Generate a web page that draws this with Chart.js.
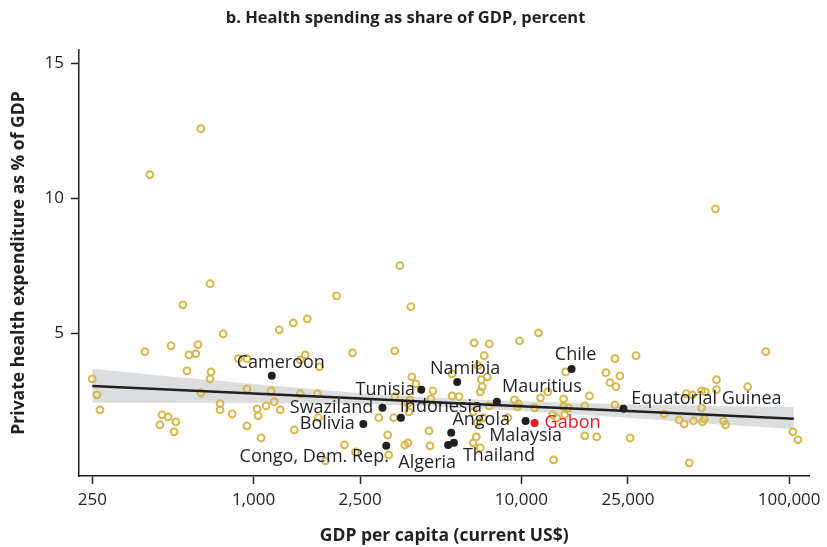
<!DOCTYPE html>
<html>
<head>
<meta charset="utf-8">
<script src="https://cdn.jsdelivr.net/npm/chart.js@4.4.1/dist/chart.umd.min.js"></script>
<style>
html, body { margin: 0; padding: 0; background: #fff; }
</style>
</head>
<body>
<canvas id="chartHolder" width="827" height="547"></canvas>
<script>
// GDP per capita (US$) and private health spending (% of GDP), other countries
const gdpPerCapita = [
  636, 410, 53050, 3517, 688, 545, 2040, 3867, 770, 393, 492, 620, 574, 609, 1247, 1407, 1588, 877, 945, 1560, 1494, 1762, 564, 694, 688, 250,
  260, 267, 455, 480, 513, 447, 505, 636, 750, 750, 832, 945, 1031, 1114, 1040, 945, 1067, 1163, 1194, 1258, 1419, 1494, 1731, 1746, 1855, 2186, 2404,
  2342, 3367, 6664, 7590, 7266, 9837, 11586, 3900, 14635, 4037, 4675, 4597, 5511, 6898, 7082, 7459, 7143, 5511, 5857, 3367, 3834, 7022,
  2933, 3338, 3770, 3802, 4519, 4558, 3169, 3196, 3671, 3770, 6782, 6608, 7022, 13190, 9416, 9678, 11790, 14380, 14380, 11190, 13540, 8910, 7590, 7205, 6608, 12540, 9750, 17245, 17960, 15000, 14500, 17245, 19130, 6840, 13080,
  20680, 22350, 23340, 26800, 21410, 22540, 22350, 25450, 34130, 38860, 40570, 43870, 41260, 43494, 47060, 48640, 53510, 53510, 69960, 47060, 47421, 48230, 56860, 57840, 103235, 107800, 42370, 81730
];
const privateShare = [
  12.58, 10.88, 9.61, 7.50, 6.83, 6.05, 6.38, 5.98, 4.97, 4.31, 4.53, 4.57, 4.19, 4.23, 5.12, 5.38, 5.53, 4.05, 4.05, 4.19, 4.01, 3.75, 3.60, 3.56, 3.30, 3.30,
  2.71, 2.15, 1.97, 1.89, 1.71, 1.60, 1.34, 2.78, 2.38, 2.15, 2.00, 2.93, 2.19, 2.30, 1.93, 1.56, 1.11, 2.86, 2.45, 2.15, 1.41, 2.75, 2.75, 1.86, 0.26, 0.85, 0.59,
  4.27, 4.34, 4.64, 4.60, 4.16, 4.71, 5.01, 3.38, 3.56, 3.12, 2.86, 2.56, 3.49, 3.79, 3.27, 3.38, 3.01, 2.67, 2.64, 2.64, 2.52, 2.82,
  1.86, 1.86, 2.38, 2.08, 1.37, 0.82, 1.22, 0.48, 0.85, 0.93, 1.15, 0.93, 0.74, 0.30, 2.52, 2.26, 2.60, 2.56, 2.26, 2.23, 1.86, 1.86, 2.30, 1.86, 2.08, 2.82, 2.38, 2.30, 2.67, 2.23, 1.97, 1.19, 1.15, 1.67, 1.97,
  3.53, 4.05, 3.41, 4.16, 3.16, 3.01, 2.34, 1.11, 2.00, 1.78, 1.63, 1.74, 2.75, 2.71, 2.86, 2.82, 2.90, 3.27, 3.01, 2.23, 1.71, 1.82, 1.74, 1.60, 1.34, 1.04, 0.19, 4.31
];

// highlighted countries
const labelNames = ["Cameroon", "Namibia", "Tunisia", "Chile", "Mauritius", "Swaziland", "Indonesia", "Bolivia",
  "Angola", "Algeria", "Thailand", "Malaysia", "Gabon", "Congo, Dem. Rep.", "Equatorial Guinea"];
const labelGdp = [1170, 5760, 4230, 15400, 8100, 3030, 3550, 2570, 5470, 5330, 5600, 10370, 11200, 3130, 24050];
const labelShare = [3.42, 3.19, 2.90, 3.67, 2.45, 2.23, 1.86, 1.63, 1.30, 0.85, 0.93, 1.74, 1.67, 0.82, 2.19];

// fitted line and its confidence band
const fitGdp = [250, 500, 1000, 2500, 5000, 10000, 25000, 50000, 104000];
const fitLine = [3.04, 2.90, 2.76, 2.57, 2.43, 2.29, 2.11, 1.97, 1.82];
const fitUpper = [3.68, 3.38, 3.11, 2.77, 2.59, 2.47, 2.36, 2.30, 2.26];
const fitLower = [2.42, 2.42, 2.41, 2.37, 2.27, 2.11, 1.86, 1.64, 1.44];

const xTicks = [250, 1000, 2500, 10000, 25000, 100000];
const yTicks = [5, 10, 15];

const dark = "#231f20";
const gold = "#d6b94c";
const red = "#ed1c24";
const fontName = '"Open Sans", "Noto Sans", sans-serif';

function toPoints(xs, ys)
{
    return xs.map((x, i) => ({x: x, y: ys[i]}));
}

const labelPlugin = {
    id: "countryLabels",
    afterDatasetsDraw(chart, args, opts)
    {
        const meta = chart.getDatasetMeta(0);
        const ctx = chart.ctx;
        ctx.save();
        ctx.font = "18px " + fontName;
        ctx.textAlign = "center";
        ctx.textBaseline = "middle";
        meta.data.forEach((pt, i) => {
            const off = opts.offsets[i];
            ctx.fillStyle = labelNames[i] === "Gabon" ? red : dark;
            ctx.fillText(labelNames[i], pt.x + off[0], pt.y + off[1]);
        });
        ctx.restore();
    }
};

new Chart(document.getElementById("chartHolder"), {
    type: "scatter",
    data: {
        datasets: [
            {
                data: toPoints(labelGdp, labelShare),
                order: 0,
                pointRadius: 4,
                pointBorderWidth: 0,
                pointBackgroundColor: labelNames.map(n => n === "Gabon" ? red : dark),
                pointBorderColor: labelNames.map(n => n === "Gabon" ? red : dark)
            },
            {
                type: "line",
                data: toPoints(fitGdp, fitLine),
                order: 1,
                borderColor: dark,
                borderWidth: 2.5,
                pointRadius: 0,
                fill: false
            },
            {
                data: toPoints(gdpPerCapita, privateShare),
                order: 2,
                pointRadius: 3.4,
                pointBorderWidth: 2,
                pointBorderColor: gold,
                pointBackgroundColor: "rgba(255,255,255,0)"
            },
            {
                type: "line",
                data: toPoints(fitGdp, fitUpper),
                order: 3,
                borderWidth: 0,
                borderColor: "rgba(0,0,0,0)",
                pointRadius: 0,
                backgroundColor: "#dcddde",
                fill: "+1"
            },
            {
                type: "line",
                data: toPoints(fitGdp, fitLower),
                order: 4,
                borderWidth: 0,
                borderColor: "rgba(0,0,0,0)",
                pointRadius: 0,
                fill: false
            }
        ]
    },
    options: {
        responsive: false,
        animation: false,
        devicePixelRatio: 1,
        layout: { padding: { top: 0, right: 16, bottom: 0, left: 0 } },
        plugins: {
            legend: { display: false },
            tooltip: { enabled: false },
            title: {
                display: true,
                text: "b. Health spending as share of GDP, percent",
                color: dark,
                font: { family: fontName, size: 16.5, weight: "bold" },
                padding: { top: 8, bottom: 22.2 }
            },
            countryLabels: {
                offsets: [[9, -13], [8, -13], [-36, 0], [4, -14], [45, -15], [-51, 0], [40, -11], [-36, 0],
                    [30, -13], [-21, 18], [45, 13], [0, 15], [38, 0], [-72, 11], [83, -10]]
            }
        },
        scales: {
            x: {
                type: "logarithmic",
                min: 223,
                max: 119000,
                afterBuildTicks: s => { s.ticks = xTicks.map(v => ({value: v})); },
                afterFit: s => { s.height = 71; },
                ticks: {
                    autoSkip: false,
                    maxRotation: 0,
                    color: dark,
                    padding: 6,
                    font: { family: fontName, size: 17 },
                    callback: v => Number(v).toLocaleString("en-US")
                },
                grid: { drawOnChartArea: false, drawTicks: true, tickLength: 8, tickColor: dark, tickWidth: 1.5 },
                border: { display: true, color: dark, width: 1.5 },
                title: {
                    display: true,
                    text: "GDP per capita (current US$)",
                    color: dark,
                    font: { family: fontName, size: 17.5, weight: "bold" },
                    padding: { top: 8, bottom: 0 }
                }
            },
            y: {
                type: "linear",
                min: -0.3,
                max: 15.5,
                afterBuildTicks: s => { s.ticks = yTicks.map(v => ({value: v})); },
                afterFit: s => { s.width = 79; },
                ticks: {
                    color: dark,
                    padding: 7,
                    font: { family: fontName, size: 17 }
                },
                grid: { drawOnChartArea: false, drawTicks: true, tickLength: 8, tickColor: dark, tickWidth: 1.5 },
                border: { display: true, color: dark, width: 1.5 },
                title: {
                    display: true,
                    text: "Private health expenditure as % of GDP",
                    color: dark,
                    font: { family: fontName, size: 17.5, weight: "bold" },
                    padding: { top: 9, bottom: 0 }
                }
            }
        }
    },
    plugins: [labelPlugin]
});
</script>
</body>
</html>
